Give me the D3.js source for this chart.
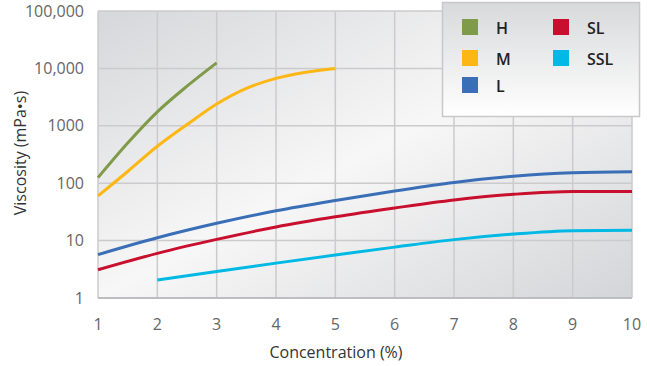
<!DOCTYPE html>
<html>
<head>
<meta charset="utf-8">
<script src="https://cdn.jsdelivr.net/npm/d3@7"></script>
<style>
  body { margin: 0; background: #fff; }
  text { font-family: "Open Sans", Lato, sans-serif; }
</style>
</head>
<body>
<div id="chart"></div>
<script>
// Chart data
const xTicks = [1, 2, 3, 4, 5, 6, 7, 8, 9, 10];
const yTicks = [1, 10, 100, 1000, 10000, 100000];
const yTickLabels = ["1", "10", "100", "1000", "10,000", "100,000"];

const seriesNames = ["H", "M", "L", "SL", "SSL"];
const seriesColors = ["#7f9a48", "#fdb714", "#3a6fb7", "#c8102e", "#00b9e4"];

const hValues = [[1, 125], [1.5, 500], [2, 1750], [2.5, 4900], [3, 12500]];
const mValues = [[1, 60], [1.5, 160], [2, 440], [2.5, 1050], [3, 2400], [3.5, 4500], [4, 6700], [4.5, 8600], [5, 10000]];
const lValues = [[1, 5.7], [2, 11.2], [3, 20], [4, 33], [5, 50], [6, 73], [7, 103], [8, 132], [9, 152], [10, 158]];
const slValues = [[1, 3.1], [2, 6], [3, 10.5], [4, 17.3], [5, 26], [6, 37], [7, 51], [8, 64], [9, 72], [10, 72]];
const sslValues = [[2, 2.05], [3, 2.9], [4, 4.05], [5, 5.6], [6, 7.7], [7, 10.4], [8, 13], [9, 14.9], [10, 15.2]];

const allSeries = [hValues, mValues, lValues, slValues, sslValues];

const width = 647, height = 366;
const margin = { top: 11, right: 15, bottom: 68, left: 98 };

const svg = d3.select("#chart").append("svg")
  .attr("width", width)
  .attr("height", height);

const x = d3.scaleLinear().domain([1, 10]).range([margin.left, width - margin.right]);
const y = d3.scaleLog().domain([1, 100000]).range([height - margin.bottom, margin.top]);

// background gradient
const defs = svg.append("defs");
const bg = defs.append("linearGradient").attr("id", "bg")
  .attr("x1", 0).attr("y1", 0).attr("x2", 1).attr("y2", 1);
bg.append("stop").attr("offset", "0%").attr("stop-color", "#d6d7da");
bg.append("stop").attr("offset", "50%").attr("stop-color", "#f7f7f7");
bg.append("stop").attr("offset", "100%").attr("stop-color", "#d4d5d8");

const legGrad = defs.append("linearGradient").attr("id", "legbg")
  .attr("x1", 0).attr("y1", 0).attr("x2", 0).attr("y2", 1);
legGrad.append("stop").attr("offset", "0%").attr("stop-color", "#d8d9db");
legGrad.append("stop").attr("offset", "100%").attr("stop-color", "#ffffff");

svg.append("rect")
  .attr("x", x(1)).attr("y", y(100000))
  .attr("width", x(10) - x(1)).attr("height", y(1) - y(100000))
  .attr("fill", "url(#bg)");

// grid
svg.append("g").selectAll("line").data(xTicks).join("line")
  .attr("x1", d => x(d)).attr("x2", d => x(d))
  .attr("y1", y(100000)).attr("y2", y(1))
  .attr("stroke", "#cbcbcd").attr("stroke-width", 1.5);

svg.append("g").selectAll("line").data(yTicks).join("line")
  .attr("x1", x(1)).attr("x2", x(10))
  .attr("y1", d => y(d)).attr("y2", d => y(d))
  .attr("stroke", "#cbcbcd").attr("stroke-width", 1.5);

// bottom edge
svg.append("line")
  .attr("x1", x(1)).attr("x2", x(10))
  .attr("y1", y(1)).attr("y2", y(1))
  .attr("stroke", "#b5b6b8").attr("stroke-width", 1.5);

// axes labels
svg.append("g").selectAll("text").data(yTicks).join("text")
  .attr("x", 84)
  .attr("y", d => y(d))
  .attr("dy", "0.35em")
  .attr("text-anchor", "end")
  .attr("font-size", 16)
  .attr("fill", "#666")
  .text((d, i) => yTickLabels[i]);

svg.append("g").selectAll("text").data(xTicks).join("text")
  .attr("x", d => x(d))
  .attr("y", 330)
  .attr("text-anchor", "middle")
  .attr("font-size", 16)
  .attr("fill", "#666")
  .text(d => d);

svg.append("text")
  .attr("x", 336).attr("y", 358)
  .attr("text-anchor", "middle")
  .attr("font-size", 16)
  .attr("fill", "#333")
  .text("Concentration (%)");

svg.append("text")
  .attr("transform", "translate(26,153) rotate(-90)")
  .attr("text-anchor", "middle")
  .attr("font-size", 16)
  .attr("fill", "#333")
  .text("Viscosity (mPa•s)");

// lines
const line = d3.line()
  .x(d => x(d[0]))
  .y(d => y(d[1]))
  .curve(d3.curveMonotoneX);

svg.append("g").selectAll("path").data(allSeries).join("path")
  .attr("d", line)
  .attr("fill", "none")
  .attr("stroke", (d, i) => seriesColors[i])
  .attr("stroke-width", 3);

// legend
const legend = svg.append("g");
legend.append("rect")
  .attr("x", 442.5).attr("y", 2.5)
  .attr("width", 197).attr("height", 114)
  .attr("fill", "url(#legbg)")
  .attr("stroke", "#c8c8ca").attr("stroke-width", 1.5);

const legPos = [[462, 19], [462, 50], [462, 77], [553, 19], [553, 50]];
const legItem = legend.selectAll("g.item").data(seriesNames).join("g")
  .attr("class", "item")
  .attr("transform", (d, i) => `translate(${legPos[i][0]},${legPos[i][1]})`);

legItem.append("rect")
  .attr("width", 16).attr("height", 16)
  .attr("fill", (d, i) => seriesColors[i]);

legItem.append("text")
  .attr("x", 34).attr("y", 9)
  .attr("dy", "0.38em")
  .attr("font-size", 16)
  .attr("font-weight", 600)
  .attr("fill", "#222")
  .text(d => d);
</script>
</body>
</html>
